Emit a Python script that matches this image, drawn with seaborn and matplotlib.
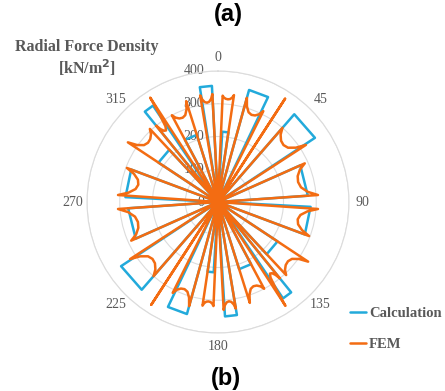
import numpy as np
import pandas as pd
import matplotlib
matplotlib.use("Agg")
import matplotlib.pyplot as plt
import matplotlib.transforms as mtrans
from matplotlib.lines import Line2D
import seaborn as sns

# ---------------- data (angles in degrees, clockwise from top) ----------------
calc_start = [3.5, 15.5, 41, 66, 93, 123.5, 141, 152, 170.5,
              183.5, 195.5, 221, 246, 273, 303.5, 321, 332, 351]
calc_end = [8.5, 25.5, 56.5, 86, 110.5, 137, 146, 162.5, 176.5,
            188.5, 205.5, 236.5, 266, 290.5, 317, 326, 342.5, 357]
calc_value = [215, 355, 355, 275, 283, 218, 355, 215, 350,
              215, 355, 355, 275, 283, 218, 355, 215, 355]

fem_start = [2.5, 15.5, 41, 66, 94, 123.5, 141, 152, 170.5,
             182.5, 195.5, 221, 246, 274, 303.5, 321, 332, 350.5]
fem_end = [8.5, 26.5, 57, 86, 110.5, 137, 147, 162.5, 177,
           188.5, 206.5, 237, 266, 290.5, 317, 327, 342.5, 357]
fem_left_peak = [325, 330, 300, 290, 306, 330, 300, 300, 330,
                 318, 330, 300, 290, 306, 330, 300, 300, 330]
fem_dip = [315, 285, 265, 252, 249, 280, 270, 279, 305,
           305, 285, 265, 252, 249, 280, 270, 279, 305]
fem_right_peak = [330, 310, 320, 306, 297, 305, 378, 323, 330,
                  320, 310, 320, 306, 297, 305, 380, 323, 330]

spike_angle = [33, 213]
spike_value = [376, 374]

radial_ticks = [0, 100, 200, 300, 400]
angle_ticks = [0, 45, 90, 135, 180, 225, 270, 315]

BLUE = "#22AADB"
ORANGE = "#F36C12"
GRAY_TXT = "#595959"

# ---------------- build the curves from the read values ----------------
def calc_curve():
    th, r = [], []
    for s, e, v in zip(calc_start, calc_end, calc_value):
        th += [s, s, e, e]
        r += [0, v, v, 0]
    return th, r

def fem_curve():
    items = []
    for s, e, lp, d, rp in zip(fem_start, fem_end, fem_left_peak, fem_dip, fem_right_peak):
        w = e - s
        pts = [(s - 0.3, 0), (s, lp), (s + 0.12 * w, lp - 0.55 * (lp - d)),
               (s + 0.3 * w, d + 0.1 * (lp - d)), (s + 0.5 * w, d),
               (e - 0.3 * w, d + 0.1 * (rp - d)), (e - 0.12 * w, rp - 0.55 * (rp - d)),
               (e, rp), (e + 0.3, 0)]
        items.append((s, pts))
    for c, v in zip(spike_angle, spike_value):
        items.append((c - 0.6, [(c - 0.6, 0), (c, v), (c + 0.6, 0)]))
    items.sort(key=lambda t: t[0])
    th, r = [], []
    for _, pts in items:
        for a, b in pts:
            th.append(a)
            r.append(b)
    return th, r

ct, cr = calc_curve()
ft, fr = fem_curve()
df = pd.concat([
    pd.DataFrame({"theta": np.deg2rad(ct), "r": cr, "series": "Calculation"}),
    pd.DataFrame({"theta": np.deg2rad(ft), "r": fr, "series": "FEM"}),
])

# ---------------- figure ----------------
sns.set_theme(style="white")
plt.rcParams["font.family"] = ["Liberation Serif", "DejaVu Serif"]

fig = plt.figure(figsize=(4.45, 3.91), dpi=100)
cx, cy, rad = 218, 202, 131
ax = fig.add_axes([(cx - rad) / 445, 1 - (cy + rad) / 391, 2 * rad / 445, 2 * rad / 391],
                  projection="polar")
ax.set_theta_zero_location("N")
ax.set_theta_direction(-1)

sns.lineplot(data=df[df.series == "Calculation"], x="theta", y="r", sort=False,
             estimator=None, color=BLUE, linewidth=1.8, ax=ax, legend=False)
sns.lineplot(data=df[df.series == "FEM"], x="theta", y="r", sort=False,
             estimator=None, color=ORANGE, linewidth=1.8, ax=ax, legend=False)

ax.set_ylim(0, 400)
ax.set_yticks(radial_ticks)
ax.set_yticklabels([])
ax.set_xticks(np.deg2rad(angle_ticks))
ax.set_xticklabels([str(a) for a in angle_ticks], fontsize=10, color=GRAY_TXT)
ax.tick_params(axis="x", pad=-3)
ax.set_xlabel("")
ax.set_ylabel("")
ax.xaxis.grid(False)
ax.yaxis.grid(True, color="#DCDCDC", linewidth=0.8)
ax.spines["polar"].set_color("#DCDCDC")
ax.spines["polar"].set_linewidth(0.8)
ax.set_facecolor("white")

off = mtrans.offset_copy(ax.transData, fig=fig, x=-14, y=0, units="dots")
for v in radial_ticks:
    ax.text(0, v, str(v), transform=off, ha="right", va="center",
            fontsize=10, color=GRAY_TXT, zorder=1)

# titles
fig.text(87 / 445, 1 - 47 / 391, "Radial Force Density", ha="center", va="center",
         fontsize=11.5, fontweight="bold", color=GRAY_TXT)
fig.text(87 / 445, 1 - 68 / 391, "[kN/m$^\\mathbf{2}$]", ha="center", va="center",
         fontsize=11.5, fontweight="bold", color=GRAY_TXT)
fig.text(228 / 445, 1 - 14 / 391, "(a)", ha="center", va="center", fontsize=17,
         fontweight="bold", color="black", family=["Liberation Sans", "DejaVu Sans"])
fig.text(226 / 445, 1 - 379 / 391, "(b)", ha="center", va="center", fontsize=17,
         fontweight="bold", color="black", family=["Liberation Sans", "DejaVu Sans"])

handles = [Line2D([], [], color=BLUE, linewidth=1.8), Line2D([], [], color=ORANGE, linewidth=1.8)]
leg = fig.legend(handles, ["Calculation", "FEM"], loc="upper left",
                 bbox_to_anchor=(350 / 445, 1 - 307 / 391), frameon=False,
                 handlelength=1.1, handletextpad=0.2, labelspacing=1.2, borderpad=0,
                 borderaxespad=0, prop={"family": "Liberation Serif", "weight": "bold", "size": 10.5})
for t in leg.get_texts():
    t.set_color(GRAY_TXT)

fig.savefig("out.png", dpi=100, facecolor="white")
